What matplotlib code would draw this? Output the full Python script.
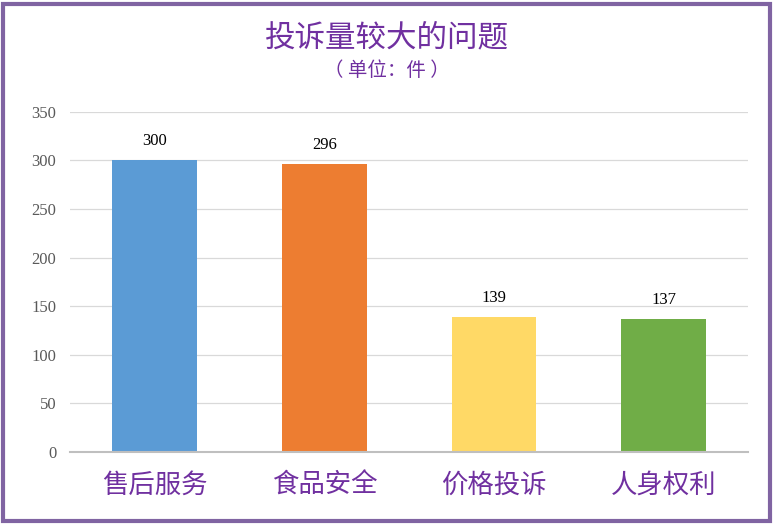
import matplotlib.pyplot as plt
from matplotlib.patches import Rectangle

categories = ["售后服务", "食品安全", "价格投诉", "人身权利"]
values = [300, 296, 139, 137]
bar_colors = ["#5B9BD5", "#ED7D31", "#FFD966", "#70AD47"]
yticks = [0, 50, 100, 150, 200, 250, 300, 350]

purple = "#7030A0"
cjk = ["Noto Sans CJK SC", "DejaVu Sans"]
serif = ["Liberation Serif", "DejaVu Serif"]

fig = plt.figure(figsize=(7.73, 5.25), dpi=100)
ax = fig.add_axes([0.0906, 0.139, 0.8774, 0.648])

x = list(range(len(categories)))
ax.bar(x, values, width=0.5, color=bar_colors, zorder=3)
for xi, v in zip(x, values):
    ax.annotate(str(v), (xi, v), xytext=(0, 8), textcoords="offset points",
                ha="center", va="bottom", fontsize=12, family=serif, color="black")

ax.set_xlim(-0.5, 3.5)
ax.set_ylim(0, 350)
ax.set_yticks(yticks)
ax.set_yticklabels([str(t) for t in yticks], family=serif, fontsize=12, color="#595959")
ax.set_xticks(x)
ax.set_xticklabels(categories, family=cjk, fontsize=19, color=purple)
ax.tick_params(axis="both", length=0)
ax.tick_params(axis="x", pad=14)
ax.tick_params(axis="y", pad=10)
ax.grid(axis="y", color="#D9D9D9", linewidth=0.9, zorder=0)
for s in ["top", "right", "left"]:
    ax.spines[s].set_visible(False)
ax.spines["bottom"].set_color("#BFBFBF")
ax.spines["bottom"].set_linewidth(1.5)
ax.spines["bottom"].set_zorder(4)

fig.text(0.5, 1 - 38 / 525, "投诉量较大的问题", ha="center", va="center",
         family=cjk, fontsize=22, color=purple)
fig.text(0.5, 1 - 70 / 525, "（ 单位：件 ）", ha="center", va="center",
         family=cjk, fontsize=14, color=purple)

fig.patches.append(Rectangle((3 / 773, 4 / 525), 767 / 773, 517 / 525,
                             transform=fig.transFigure, fill=False,
                             edgecolor="#8064A2", linewidth=3))

fig.savefig("out.png", dpi=100)
